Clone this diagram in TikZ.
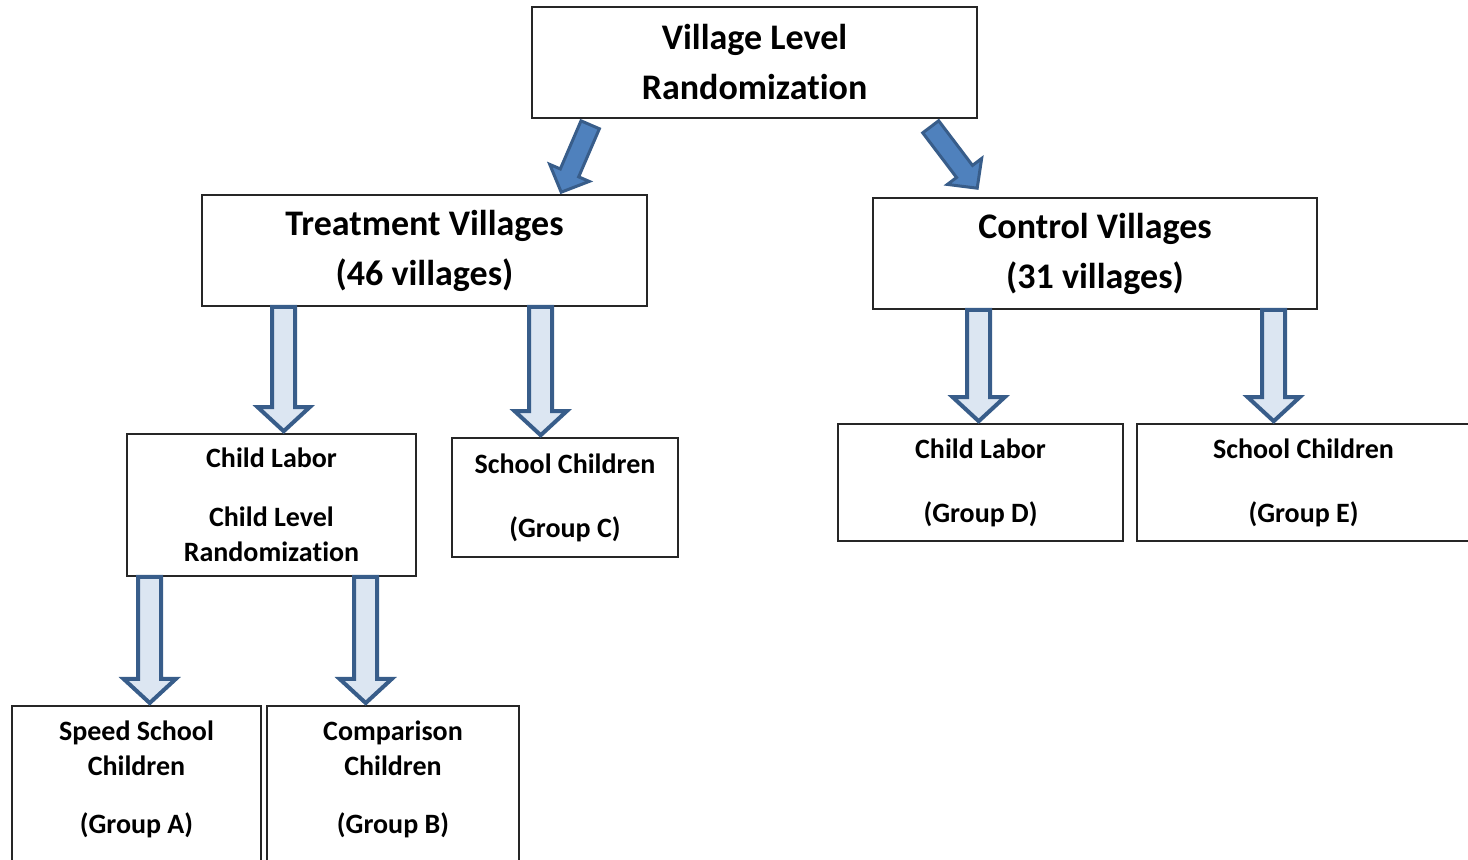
\documentclass[tikz,border=0pt]{standalone}
\usepackage{fontspec}
\setmainfont{Carlito}[Ligatures=NoCommon]
\usetikzlibrary{calc}
\usetikzlibrary{positioning}

\definecolor{arrowblue}{HTML}{4F81BD}
\definecolor{arrowedge}{HTML}{385D8A}
\definecolor{arrowpale}{HTML}{DCE6F2}

% block arrow: style, shaft half width, head half width, head length, from, to
\newcommand{\blockarrow}[6]{%
	\coordinate (ba-h) at ($(#6)!#4!(#5)$);
	\draw[#1] ($(#5)!#2!90:(#6)$) -- ($(ba-h)!#2!-90:(#5)$) -- ($(ba-h)!#3!-90:(#5)$)
		-- (#6) -- ($(ba-h)!#3!90:(#5)$) -- ($(ba-h)!#2!90:(#5)$) -- ($(#5)!#2!-90:(#6)$) -- cycle;
}

\begin{document}
\begin{tikzpicture}[x=0.5pt,y=-0.5pt,
	box/.style={
		draw=black!85, % all the boxes
		line width=0.8pt,
		anchor=center,
		align=center,
	},
	bigbox/.style={box, minimum height=55.5pt, font=\fontsize{18}{25}\selectfont\bfseries},
	smallbox/.style={box, font=\fontsize{14}{17.5}\selectfont\bfseries},
	smalltxt/.style={align=center, inner sep=0pt, font=\fontsize{14}{17.5}\selectfont\bfseries},
	bluearrow/.style={fill=arrowblue, draw=arrowedge, line width=1.5pt},
	palearrow/.style={fill=arrowpale, draw=arrowedge, line width=2pt},
]
	\clip (0,0) rectangle (1468,860);

	\node[bigbox, minimum width=222.5pt] (village) at (754.5,62.5) {Village Level\\Randomization};
	\node[bigbox, minimum width=222.5pt] (treat) at (424.5,250.5) {Treatment Villages\\(46 villages)};
	\node[bigbox, minimum width=222pt] (control) at (1095,253.5) {Control Villages\\(31 villages)};

	\node[smallbox, minimum width=144.5pt, minimum height=71pt] (labor) at (271.5,505)
		{Child Labor\\[12pt]Child Level\\Randomization};
	\node[smallbox, minimum width=113pt, minimum height=59.5pt] (groupC) at (565,497.5)
		{School Children\\[14.5pt](Group C)};
	\node[smallbox, minimum width=142.5pt, minimum height=58.5pt] (groupD) at (980.5,482.5)
		{Child Labor\\[14.5pt](Group D)};
	\node[smallbox, minimum width=166.5pt, minimum height=58.5pt] (groupE) at (1303.5,482.5)
		{School Children\\[14.5pt](Group E)};

	\node[smallbox, minimum width=124.5pt, minimum height=90pt, anchor=north] (groupA) at (136.5,705) {};
	\node[smalltxt, below=7.5pt of groupA.north] (groupAtxt) {Speed School\\Children\\[11.5pt](Group A)};
	\node[smallbox, minimum width=126pt, minimum height=90pt, anchor=north] (groupB) at (393,705) {};
	\node[smalltxt, below=7.5pt of groupB.north] (groupBtxt) {Comparison\\Children\\[11.5pt](Group B)};

	\blockarrow{bluearrow}{5pt}{10.75pt}{10.5pt}{$(village.south west)+(59,6)$}{$(treat.north west)+(360,-2)$}
	\blockarrow{bluearrow}{5pt}{10.75pt}{10.5pt}{$(village.south west)+(399.5,8)$}{$(control.north west)+(105,-9)$}

	\blockarrow{palearrow}{5.75pt}{13pt}{12pt}{$(treat.south west)+(82.5,0)$}{$(labor.north west)+(157.5,-2)$}
	\blockarrow{palearrow}{5.75pt}{13pt}{12pt}{$(treat.south west)+(339.5,0)$}{$(groupC.north west)+(89.5,-2)$}
	\blockarrow{palearrow}{5.75pt}{13pt}{12pt}{$(control.south west)+(106.5,0)$}{$(groupD.north west)+(141.5,-2)$}
	\blockarrow{palearrow}{5.75pt}{13pt}{12pt}{$(control.south west)+(401.5,0)$}{$(groupE.north west)+(137.5,-2)$}
	\blockarrow{palearrow}{5.75pt}{13pt}{12pt}{$(labor.south west)+(23.5,0)$}{$(groupA.north west)+(138.5,-2)$}
	\blockarrow{palearrow}{5.75pt}{13pt}{12pt}{$(labor.south west)+(239.5,0)$}{$(groupB.north west)+(99.5,-2)$}

\end{tikzpicture}
\end{document}
